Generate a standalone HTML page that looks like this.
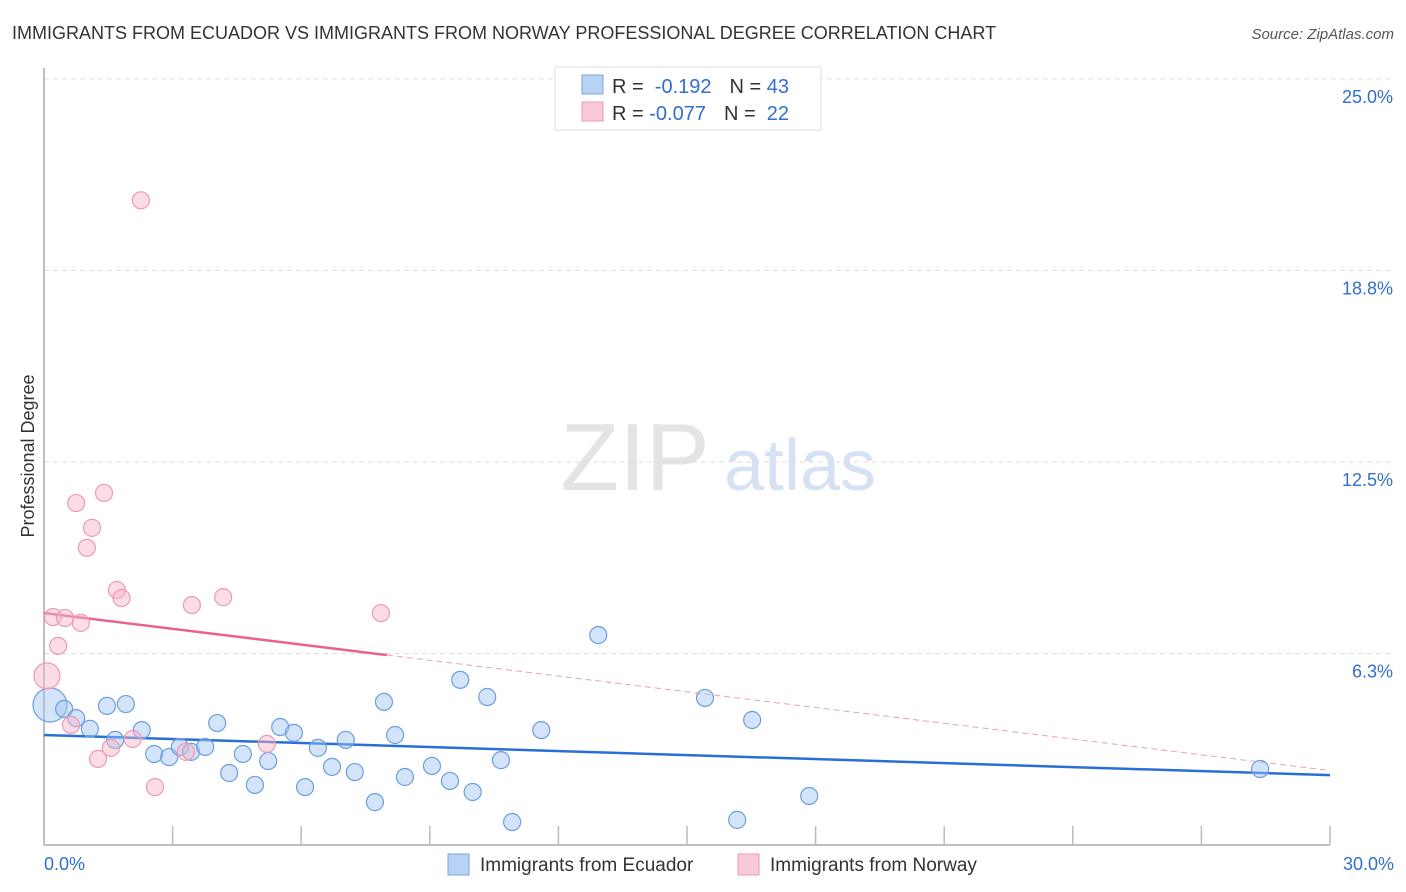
<!DOCTYPE html>
<html><head><meta charset="utf-8"><style>
body{margin:0;background:#fff;font-family:"Liberation Sans",sans-serif;}
#wrap{position:relative;width:1406px;height:892px;overflow:hidden;}
svg text{font-family:"Liberation Sans",sans-serif;}
</style></head><body>
<div id="wrap">
<svg id="chart" width="1406" height="892">
<text x="12" y="39" font-size="18" fill="#333">IMMIGRANTS FROM ECUADOR VS IMMIGRANTS FROM NORWAY PROFESSIONAL DEGREE CORRELATION CHART</text>
<text x="1394" y="39" font-size="15" fill="#555" font-style="italic" text-anchor="end">Source: ZipAtlas.com</text>
<text x="34" y="456" font-size="18" fill="#333" text-anchor="middle" transform="rotate(-90 34 456)">Professional Degree</text>
<g><text x="635" y="490" font-size="96" fill="#e4e4e4" font-family="Liberation Serif" text-anchor="middle">ZIP</text><text x="800" y="490" font-size="72" fill="#d6e2f3" text-anchor="middle">atlas</text></g>
<g id="grid"></g><g id="axes"></g><g id="trends"></g><g id="pts"></g>
<g>
<rect x="555" y="67" width="266" height="63" fill="#fff" stroke="#ddd"/>
<rect x="582" y="75" width="21" height="19" fill="#b8d2f4" stroke="#7ba6e0"/>
<rect x="582" y="102" width="21" height="19" fill="#fbcad8" stroke="#ee9ab3"/>
<text x="612" y="93" font-size="20" fill="#333">R = <tspan fill="#2f6fd0">&#160;-0.192</tspan><tspan dx="18">N = </tspan><tspan fill="#2f6fd0">43</tspan></text>
<text x="612" y="120" font-size="20" fill="#333">R = <tspan fill="#2f6fd0">-0.077</tspan><tspan dx="18">N = </tspan><tspan fill="#2f6fd0">&#160;22</tspan></text>
</g>
<g>
<rect x="448" y="854" width="21" height="21" fill="#b8d2f4" stroke="#7ba6e0"/>
<text x="480" y="871" font-size="19" fill="#333">Immigrants from Ecuador</text>
<rect x="738" y="854" width="21" height="21" fill="#fbcad8" stroke="#ee9ab3"/>
<text x="770" y="871" font-size="19" fill="#333">Immigrants from Norway</text>
</g>
</svg>
</div>
<script>
const yTicks=[6.25,12.5,18.75,25];
const yTickLabels=["6.3%","12.5%","18.8%","25.0%"];
const xTickLabels=["0.0%","30.0%"];
const ecuadorX=[0.14,0.47,0.75,1.07,1.47,1.91,1.66,2.28,2.57,2.92,3.17,3.43,3.76,4.04,4.32,4.64,4.92,5.23,5.51,5.83,6.09,6.39,6.72,7.04,7.25,7.72,7.93,8.19,8.42,9.05,9.47,9.71,10.0,10.34,10.66,10.92,11.6,12.93,15.42,16.17,16.52,17.85,28.37];
const ecuadorY=[4.57,4.44,4.14,3.79,4.54,4.6,3.43,3.75,2.97,2.87,3.2,3.04,3.2,3.98,2.35,2.97,1.96,2.74,3.85,3.66,1.89,3.17,2.55,3.43,2.38,1.4,4.67,3.59,2.22,2.58,2.09,5.39,1.73,4.83,2.77,0.75,3.75,6.85,4.8,0.82,4.08,1.6,2.48];
const norwayX=[0.07,0.21,0.49,0.86,0.33,0.63,0.75,1.12,1.0,1.4,1.26,1.56,1.7,1.81,2.07,2.26,2.59,3.31,3.45,4.18,5.2,7.86];
const norwayY=[5.52,7.44,7.41,7.25,6.5,3.92,11.16,10.35,9.7,11.49,2.81,3.17,8.32,8.06,3.46,21.04,1.89,3.04,7.83,8.09,3.3,7.57];
const ecuadorTrend=[3.59,2.28];
const norwayTrend=[7.57,2.43];
const norwaySolidEnd=8;
const NS="http://www.w3.org/2000/svg";
const X=v=>44+v/30*1286, Y=v=>845-v*30.64;
function mk(t,a,p){const e=document.createElementNS(NS,t);for(const k in a)e.setAttribute(k,a[k]);document.getElementById(p).appendChild(e);return e;}
yTicks.forEach((t,i)=>{
 const g=mk('line',{x1:44,x2:1394,y1:Y(t),y2:Y(t),stroke:'#ddd','stroke-dasharray':'5,4'},'grid');
 
 
 const l=mk('text',{x:1393,y:Y(t)+24,'font-size':18,fill:'#2f6fd0','text-anchor':'end'},'grid');l.textContent=yTickLabels[i];
 
 
});
const ax=mk('line',{x1:44,x2:44,y1:68,y2:845,stroke:'#aaa','stroke-width':1.5},'axes');


const bx=mk('line',{x1:44,x2:1330,y1:845,y2:845,stroke:'#aaa','stroke-width':1.5},'axes');


for(let i=1;i<=10;i++){const t=mk('line',{x1:X(i*3),x2:X(i*3),y1:826,y2:845,stroke:'#bbb','stroke-width':1.5},'axes');
 
 }
[[0,'start',44],[30,'end',1394]].forEach((d,i)=>{const l=mk('text',{x:d[2],y:870,'font-size':18,fill:'#2f6fd0','text-anchor':d[1]},'axes');l.textContent=xTickLabels[i];
 
 });
const nAt=x=>norwayTrend[0]+(norwayTrend[1]-norwayTrend[0])*x/30;
let tl=mk('line',{x1:X(0),y1:Y(ecuadorTrend[0]),x2:X(30),y2:Y(ecuadorTrend[1]),stroke:'#2a6fd6','stroke-width':2.5},'trends');


tl=mk('line',{x1:X(0),y1:Y(nAt(0)),x2:X(norwaySolidEnd),y2:Y(nAt(norwaySolidEnd)),stroke:'#e8628f','stroke-width':2.5},'trends');


tl=mk('line',{x1:X(norwaySolidEnd),y1:Y(nAt(norwaySolidEnd)),x2:X(30),y2:Y(nAt(30)),stroke:'#e8a0b8','stroke-width':1,'stroke-dasharray':'6,4'},'trends');


ecuadorX.forEach((x,i)=>{const c=mk('circle',{cx:X(x),cy:Y(ecuadorY[i]),r:i==0?17:8.5,fill:'rgba(160,196,240,0.45)',stroke:'#6a9ee0','stroke-width':1.2},'pts');
 
 });
norwayX.forEach((x,i)=>{const c=mk('circle',{cx:X(x),cy:Y(norwayY[i]),r:i==0?13:8.5,fill:'rgba(248,180,200,0.45)',stroke:'#ec9ab4','stroke-width':1.2},'pts');
 
 });
</script>
</body></html>
